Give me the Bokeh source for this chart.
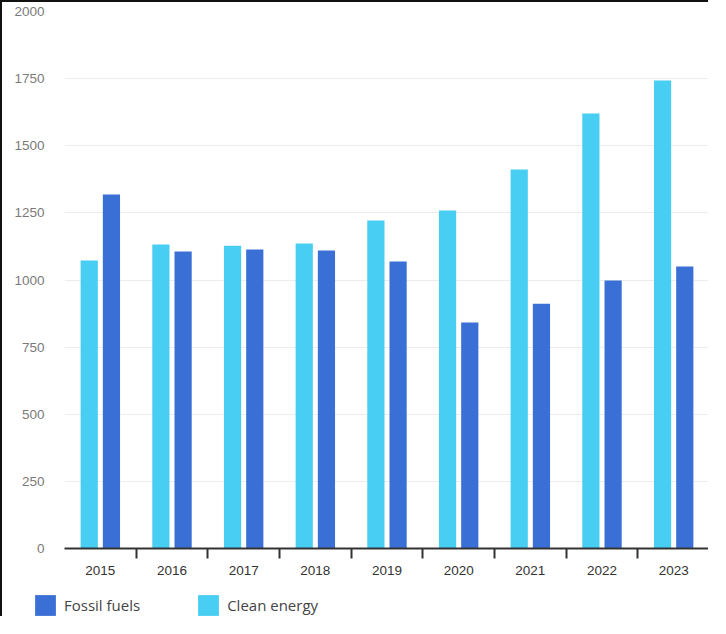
from bokeh.plotting import figure
from bokeh.models import (ColumnDataSource, Range1d, FixedTicker, Legend, LegendItem)
from bokeh.transform import dodge
from bokeh.embed import file_html
from bokeh.resources import INLINE

years = ["2015", "2016", "2017", "2018", "2019", "2020", "2021", "2022", "2023"]
clean_energy = [1073, 1132, 1128, 1136, 1222, 1259, 1412, 1620, 1743]
fossil_fuels = [1318, 1106, 1114, 1110, 1069, 842, 912, 998, 1050]
y_ticks = [0, 250, 500, 750, 1000, 1250, 1500, 1750, 2000]
series_names = ["Fossil fuels", "Clean energy"]

CLEAN = "#48CDF3"
FOSSIL = "#3A70D5"

idx = list(range(len(years)))
src = ColumnDataSource(dict(i=idx, year=years, clean=clean_energy, fossil=fossil_fuels))

p = figure(width=708, height=580, output_backend="svg", toolbar_location=None,
           x_range=Range1d(-0.5, len(years) - 0.5), y_range=Range1d(0, 2000),
           min_border_left=62, min_border_right=1, min_border_top=9, min_border_bottom=34)
p.outline_line_color = None
p.background_fill_color = "white"
p.border_fill_color = "white"

p.vbar(x=dodge("i", -0.155, range=p.x_range), top="clean", width=0.24,
       source=src, fill_color=CLEAN, line_color=None)
p.vbar(x=dodge("i", 0.155, range=p.x_range), top="fossil", width=0.24,
       source=src, fill_color=FOSSIL, line_color=None)

# x axis
xa = p.xaxis[0]
xa.ticker = FixedTicker(ticks=idx, minor_ticks=[i + 0.5 for i in idx])
xa.major_label_overrides = {i: y for i, y in zip(idx, years)}
xa.major_tick_out = 0
xa.major_tick_in = 0
xa.minor_tick_out = 10
xa.minor_tick_in = 0
xa.minor_tick_line_color = "#333333"
xa.minor_tick_line_width = 2
xa.axis_line_color = "#333333"
xa.axis_line_width = 2
xa.major_label_text_font = "Liberation Sans"
xa.major_label_text_font_size = "13.5px"
xa.major_label_text_color = "#333333"
xa.major_label_standoff = 7

# y axis
ya = p.yaxis[0]
ya.ticker = FixedTicker(ticks=y_ticks)
ya.axis_line_color = None
ya.major_tick_line_color = None
ya.minor_tick_line_color = None
ya.major_label_text_font = "Liberation Sans"
ya.major_label_text_font_size = "13.5px"
ya.major_label_text_color = "#7a7a7a"
ya.major_label_standoff = 14

p.xgrid.grid_line_color = None
p.ygrid.grid_line_color = "#ececec"
p.ygrid.grid_line_width = 1
p.styles = {"border-left": "2px solid #111111", "border-top": "2px solid #111111"}

# legend strip (hidden renderers of the same data supply the legend swatches)
lg = figure(width=708, height=36, output_backend="svg", toolbar_location=None,
            x_range=Range1d(100, 101), y_range=Range1d(0, 1),
            min_border=0, x_axis_location=None, y_axis_location=None)
lg.outline_line_color = None
lg.xgrid.grid_line_color = None
lg.ygrid.grid_line_color = None
r_f = lg.vbar(x="i", top="fossil", width=0.24, source=src, fill_color=FOSSIL, line_color=None)
r_c = lg.vbar(x="i", top="clean", width=0.24, source=src, fill_color=CLEAN, line_color=None)
r_f.visible = False
r_c.visible = False

legend = Legend(items=[LegendItem(label=series_names[0], renderers=[r_f]),
                       LegendItem(label=series_names[1], renderers=[r_c])],
                orientation="horizontal", location=(30, -2),
                glyph_width=26, glyph_height=26, label_standoff=6, spacing=55,
                padding=0, margin=0, border_line_color=None,
                background_fill_alpha=0,
                label_text_font="Open Sans", label_text_font_size="15px",
                label_text_color="#444444")
lg.add_layout(legend, "center")
lg.styles = {"border-left": "2px solid #111111"}

open("out.html", "w").write(file_html([p, lg], INLINE))
